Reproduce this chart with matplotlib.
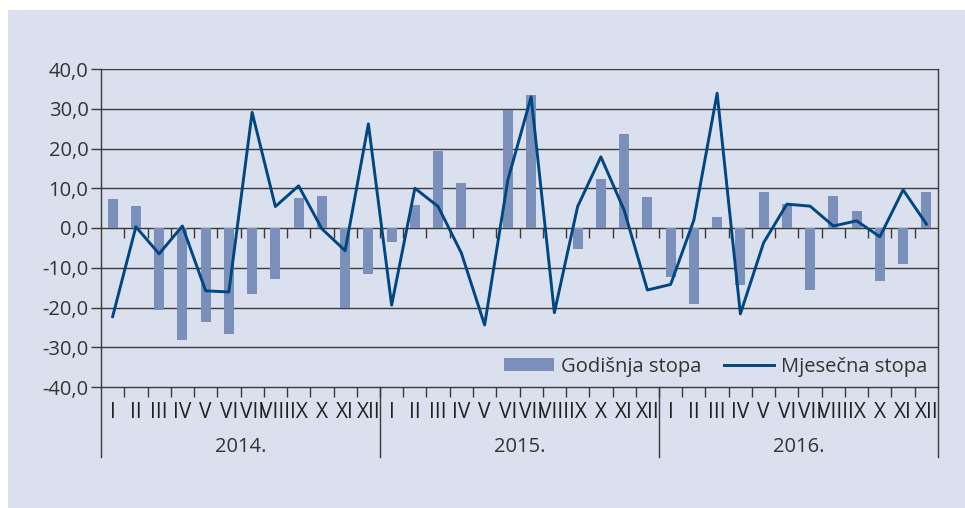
import matplotlib
matplotlib.use("Agg")
import matplotlib.pyplot as plt
import matplotlib.transforms as mtransforms
from matplotlib.patches import Rectangle
from matplotlib.lines import Line2D
import numpy as np

plt.rcParams['font.family'] = ['Open Sans', 'DejaVu Sans']

years = ["2014.", "2015.", "2016."]
months = ["I", "II", "III", "IV", "V", "VI", "VII", "VIII", "IX", "X", "XI", "XII"]

godisnja = [7.3, 5.5, -20.6, -28.2, -23.6, -26.7, -16.6, -12.8, 7.5, 8.1, -20.0, -11.5,
            -3.4, 5.8, 19.4, 11.3, 0.0, 29.7, 33.5, 0.0, -5.3, 12.3, 23.6, 7.8,
            -12.3, -19.1, 2.8, -14.3, 9.1, 6.0, -15.6, 8.1, 4.3, -13.3, -9.1, 9.1]
mjesecna = [-22.3, 0.3, -6.5, 0.5, -15.8, -16.1, 29.1, 5.4, 10.6, -0.2, -5.7, 26.2,
            -19.4, 10.0, 5.4, -6.3, -24.4, 12.1, 33.0, -21.3, 5.4, 17.9, 4.5, -15.6,
            -14.2, 2.0, 33.9, -21.6, -3.7, 6.0, 5.5, 0.5, 1.8, -2.2, 9.6, 1.0]
y_ticks = [-40, -30, -20, -10, 0, 10, 20, 30, 40]

BG = "#dae0ed"
BAR = "#7b8fbb"
LINE = "#004682"
GRID = "#3a3a3a"
TXT = "#333333"

W, H = 965, 508
fig = plt.figure(figsize=(W / 100, H / 100), dpi=100, facecolor="white")
fig.patches.append(Rectangle((8 / W, 0), 1 - 8 / W, 1 - 10 / H, transform=fig.transFigure,
                             facecolor=BG, edgecolor="none", zorder=-10))

left, right, top, bottom = 101, 938, 69, 387
ax = fig.add_axes([left / W, 1 - bottom / H, (right - left) / W, (bottom - top) / H])
ax.set_facecolor(BG)
ax.set_zorder(1)

n = len(godisnja)
x = np.arange(n)
bars = ax.bar(x, godisnja, width=0.43, color=BAR, zorder=2, label="Godišnja stopa")
line, = ax.plot(x, mjesecna, color=LINE, lw=2.1, zorder=4, label="Mjesečna stopa")

ax.set_xlim(-0.5, n - 0.5)
ax.set_ylim(-40, 40)

for v in y_ticks[1:]:
    ax.axhline(v, color=GRID, lw=1.0, zorder=1)

ax.set_yticks(y_ticks)
ax.set_yticklabels([f"{v:.1f}".replace(".", ",") for v in y_ticks], fontsize=14.5, color=TXT)
ax.tick_params(axis="y", direction="out", length=7, width=1, color=GRID, pad=2)

ax.set_xticks(x)
ax.set_xticklabels(months * len(years), fontsize=15, color="#222222")
ax.tick_params(axis="x", which="major", length=0, pad=11)
bounds = np.arange(0.5, n - 0.5, 1.0)
ax.set_xticks(bounds, minor=True)
ax.tick_params(axis="x", which="minor", direction="out", length=7, width=1, color=GRID)

# ticks on the zero line
ax.plot(bounds, np.zeros_like(bounds), ls="none", marker=3, ms=7, mew=1, color=GRID, zorder=3)

ax.spines["top"].set_visible(False)
for s in ["left", "right", "bottom"]:
    ax.spines[s].set_color(GRID)
    ax.spines[s].set_linewidth(1.0)

trans = mtransforms.blended_transform_factory(ax.transData, ax.transAxes)
ysep = (bottom - 457) / (bottom - top)
for k in range(len(years) + 1):
    xs = k * 12 - 0.5
    ax.add_line(Line2D([xs, xs], [0, ysep], transform=trans, color=GRID, lw=1.0, clip_on=False))
ylab = (bottom - 447) / (bottom - top)
for k, yr in enumerate(years):
    ax.text(k * 12 + 5.5, ylab, yr, transform=trans, ha="center", va="center",
            fontsize=14.5, color=TXT)

leg = ax.legend([bars, line], ["Godišnja stopa", "Mjesečna stopa"],
                loc="center right", bbox_to_anchor=(0.997, 0.063), ncol=2, frameon=False,
                fontsize=14.5, handlelength=2.5, handleheight=0.6, columnspacing=1.1,
                handletextpad=0.35, borderaxespad=0)
for t in leg.get_texts():
    t.set_color(TXT)

fig.savefig("out.png", dpi=100, facecolor="white")
